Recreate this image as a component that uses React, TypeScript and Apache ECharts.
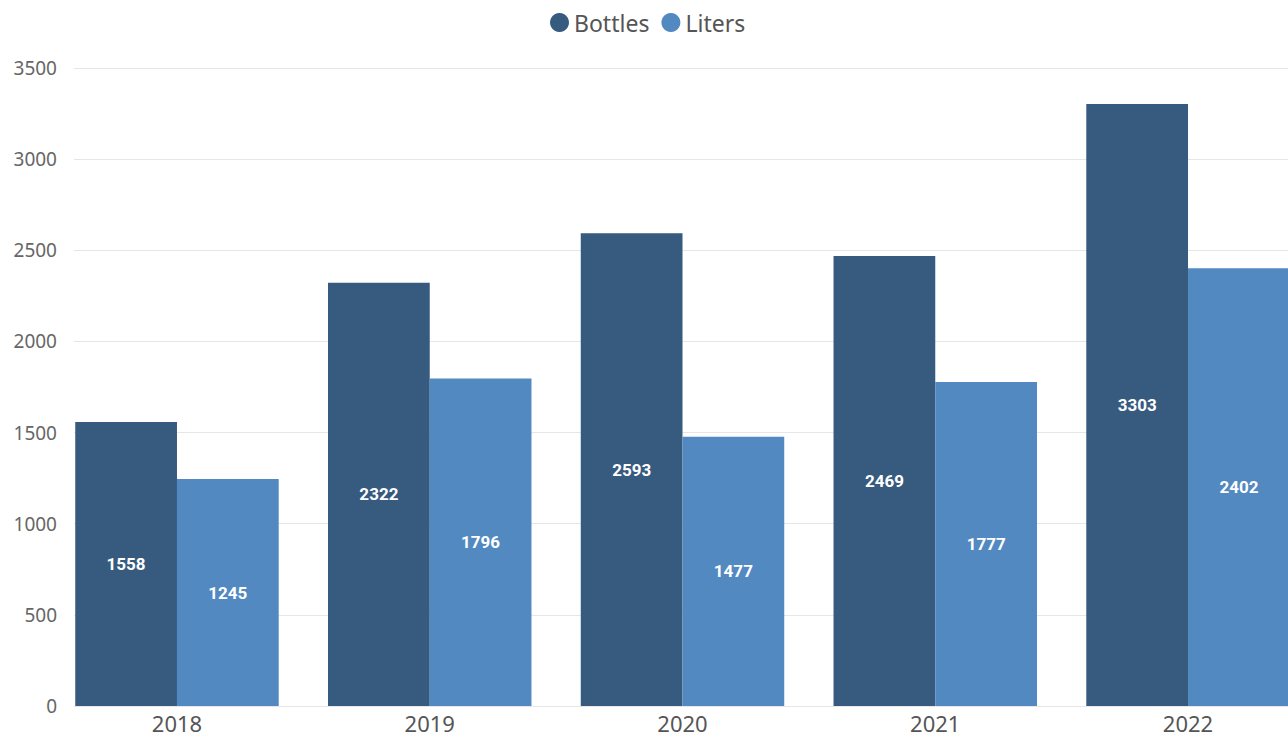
import React, { useEffect, useRef } from "react";
import * as echarts from "echarts";

const categories = ["2018", "2019", "2020", "2021", "2022"];
const bottles = [1558, 2322, 2593, 2469, 3303];
const liters = [1245, 1796, 1477, 1777, 2402];
const yTicks = { min: 0, max: 3500, interval: 500 };

const FONT = "'Noto Sans', 'Open Sans', sans-serif";

export default function App() {
  const ref = useRef<HTMLDivElement>(null);
  useEffect(() => {
    if (!ref.current) return;
    const chart = echarts.init(ref.current, null, { renderer: "svg" });
    const barLabel = {
      show: true,
      position: "inside",
      color: "#ffffff",
      fontFamily: "Roboto, sans-serif",
      fontWeight: "bold",
      fontSize: 17,
    };
    chart.setOption({
      animation: false,
      backgroundColor: "#ffffff",
      legend: {
        left: 545,
        top: 6,
        icon: "circle",
        itemWidth: 19,
        itemHeight: 19,
        itemGap: 12,
        textStyle: { fontFamily: FONT, fontSize: 23, color: "#555555" },
        data: ["Bottles", "Liters"],
      },
      grid: [
        { left: 74, top: 68, width: 1241, height: 638 },
        { left: 50.6, top: 68, width: 1263.8, height: 638 },
      ],
      xAxis: [
        { type: "category", gridIndex: 0, data: categories, show: false },
        {
          type: "category",
          gridIndex: 1,
          data: categories,
          axisLine: { show: false },
          axisTick: { show: false },
          axisLabel: {
            fontFamily: FONT,
            fontSize: 22,
            lineHeight: 22,
            color: "#555555",
            margin: 6,
          },
        },
      ],
      yAxis: [
        {
          type: "value",
          gridIndex: 0,
          min: yTicks.min,
          max: yTicks.max,
          interval: yTicks.interval,
          axisLine: { show: false },
          axisTick: { show: false },
          axisLabel: {
            fontFamily: FONT,
            fontSize: 19,
            color: "#666666",
            margin: 17,
            formatter: (v: number) => String(v),
          },
          splitLine: { lineStyle: { color: "#e6e6e6", width: 1 } },
        },
        {
          type: "value",
          gridIndex: 1,
          min: yTicks.min,
          max: yTicks.max,
          interval: yTicks.interval,
          show: false,
          splitLine: { show: false },
        },
      ],
      series: [
        {
          name: "Bottles",
          type: "bar",
          xAxisIndex: 1,
          yAxisIndex: 1,
          data: bottles,
          barGap: "0%",
          barCategoryGap: "19.5%",
          itemStyle: { color: "#375a7f" },
          label: barLabel,
        },
        {
          name: "Liters",
          type: "bar",
          xAxisIndex: 1,
          yAxisIndex: 1,
          data: liters,
          barGap: "0%",
          barCategoryGap: "19.5%",
          itemStyle: { color: "#5289c0" },
          label: barLabel,
        },
      ],
    });
    return () => chart.dispose();
  }, []);
  return (
    <div
      style={{
        position: "fixed",
        left: 0,
        top: 0,
        width: 1288,
        height: 742,
        overflow: "hidden",
        background: "#fff",
      }}
    >
      <div ref={ref} style={{ width: 1330, height: 742 }} />
    </div>
  );
}
